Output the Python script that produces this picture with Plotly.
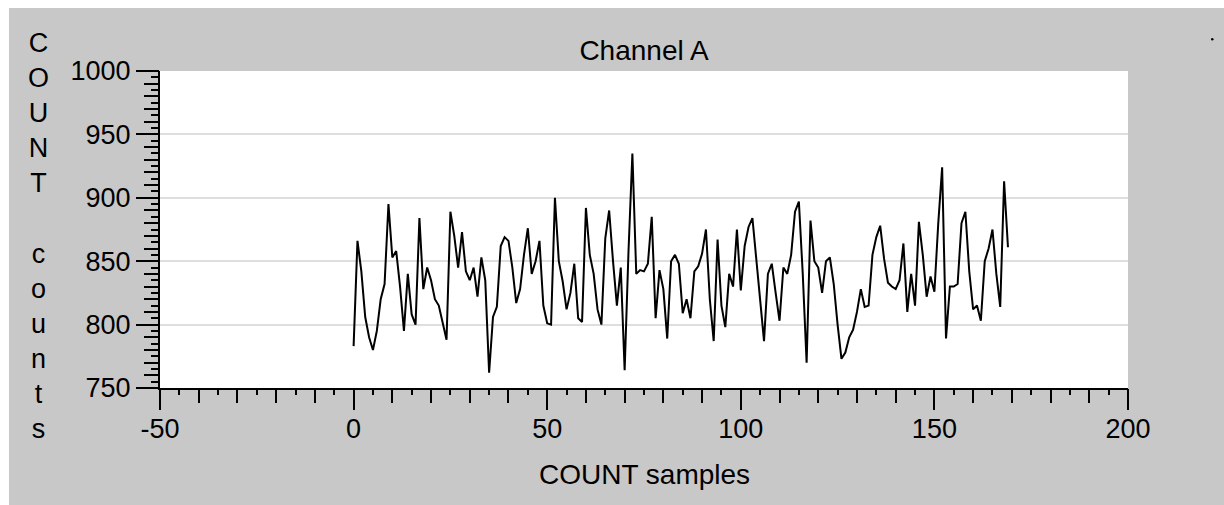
import plotly.graph_objects as go

# ---- data ----
samples = list(range(170))
counts = [
    783, 866, 842, 806, 790, 780, 795, 820, 832, 895,
    853, 858, 830, 795, 840, 808, 800, 884, 828, 845,
    835, 820, 815, 800, 788, 889, 870, 845, 873, 842,
    835, 845, 822, 853, 835, 762, 806, 814, 862, 869,
    866, 845, 817, 828, 855, 876, 840, 850, 866, 815,
    801, 800, 900, 850, 834, 812, 825, 848, 805, 802,
    892, 855, 840, 812, 800, 868, 890, 850, 815, 845,
    764, 858, 935, 840, 843, 842, 848, 885, 805, 843,
    828, 789, 850, 855, 848, 809, 820, 805, 842, 846,
    856, 875, 820, 787, 867, 815, 798, 840, 830, 875,
    827, 862, 877, 884, 850, 815, 787, 840, 848, 825,
    803, 845, 840, 855, 889, 897, 840, 770, 882, 850,
    845, 825, 850, 853, 832, 800, 773, 778, 790, 796,
    810, 828, 814, 815, 855, 869, 878, 852, 833, 830,
    828, 835, 864, 810, 840, 815, 881, 855, 822, 838,
    826, 880, 924, 789, 830, 830, 832, 880, 889, 842,
    812, 815, 803, 850, 860, 875, 840, 814, 913, 861,
]
x_range = [-50, 200]
y_range = [750, 1000]
x_tickvals = [-50, 0, 50, 100, 150, 200]
x_ticktext = ["-50", "0", "50", "100", "150", "200"]
y_tickvals = [750, 800, 850, 900, 950, 1000]
y_ticktext = ["750", "800", "850", "900", "950", "1000"]
title_text = "Channel A"
x_title = "COUNT samples"
y_title = "COUNT counts"

# ---- layout geometry (pixels) ----
W, H = 1224, 505
L, R, T, B = 160, 96, 71, 117
PW, PH = W - L - R, H - T - B
FONT = "Liberation Sans"
GRAY = "#c8c8c8"


def px(xp):
    return (xp - L) / PW


def py(yp):
    return (H - B - yp) / PH


fig = go.Figure()
fig.add_trace(go.Scatter(x=samples, y=counts, mode="lines",
                         line=dict(color="black", width=2),
                         hoverinfo="skip", showlegend=False))
# invisible helper trace so the overlay axes are always drawn
fig.add_trace(go.Scatter(x=[x_range[0]], y=[y_range[0]], xaxis="x2", yaxis="y2",
                         mode="markers", marker=dict(opacity=0),
                         hoverinfo="skip", showlegend=False))

tickfont = dict(family=FONT, size=27, color="black")

fig.update_layout(
    width=W, height=H,
    margin=dict(l=L, r=R, t=T, b=B, pad=0),
    paper_bgcolor=GRAY, plot_bgcolor="white",
    showlegend=False, hovermode=False,
    title=dict(text=title_text, x=0.5, xref="paper", xanchor="center",
               y=1 - 50 / H, yref="container", yanchor="middle",
               font=dict(family=FONT, size=28, color="black")),
    xaxis=dict(range=x_range, tickmode="array", tickvals=x_tickvals, ticktext=x_ticktext,
               ticks="outside", ticklen=20, ticklabelstandoff=-4,
               tickwidth=2, tickcolor="black", showline=True, linecolor="black",
               linewidth=2, showgrid=False, zeroline=False, tickfont=tickfont,
               fixedrange=True),
    yaxis=dict(range=y_range, tickmode="array", tickvals=y_tickvals, ticktext=y_ticktext,
               ticks="outside", ticklen=22,
               tickwidth=2, tickcolor="black", showline=True, linecolor="black",
               linewidth=2, showgrid=True, gridcolor="#dedede", gridwidth=1.5,
               zeroline=False, tickfont=tickfont, fixedrange=True),
    xaxis2=dict(range=x_range, overlaying="x", anchor="y2", side="bottom",
                dtick=10, tick0=0, ticks="outside", ticklen=14, tickwidth=2,
                tickcolor="black", showticklabels=False, showline=False,
                showgrid=False, zeroline=False, fixedrange=True,
                minor=dict(dtick=5, tick0=0, ticks="outside", ticklen=6,
                           tickwidth=2, tickcolor="black", showgrid=False)),
    yaxis2=dict(range=y_range, overlaying="y", anchor="x2", side="left",
                dtick=10, tick0=0, ticks="outside", ticklen=15, tickwidth=2,
                tickcolor="black", showticklabels=False, showline=False,
                showgrid=False, zeroline=False, fixedrange=True,
                minor=dict(dtick=5, tick0=0, ticks="outside", ticklen=8,
                           tickwidth=2, tickcolor="black", showgrid=False)),
)

# x-axis title
fig.add_annotation(text=x_title, xref="paper", yref="paper", x=0.5, y=py(474),
                   xanchor="center", yanchor="middle", showarrow=False,
                   font=dict(family=FONT, size=28, color="black"))

# y-axis title, one character per line
stacked = "<br>".join(ch if ch != " " else "\u00a0" for ch in y_title)
fig.add_annotation(text=stacked, xref="paper", yref="paper", x=px(38), y=py(236),
                   xanchor="center", yanchor="middle", showarrow=False,
                   font=dict(family=FONT, size=27, color="black"))

# white page strips at top and left, and the small dot at top right
fig.add_shape(type="rect", xref="paper", yref="paper", x0=px(0), x1=px(W),
              y0=py(8), y1=py(0), fillcolor="white", line=dict(width=0), layer="above")
fig.add_shape(type="rect", xref="paper", yref="paper", x0=px(0), x1=px(9),
              y0=py(H), y1=py(0), fillcolor="white", line=dict(width=0), layer="above")
fig.add_shape(type="circle", xref="paper", yref="paper", x0=px(1211), x1=px(1213.5),
              y0=py(40.5), y1=py(38), fillcolor="black", line=dict(width=0), layer="above")

fig.write_html("out.html", config={"displayModeBar": False})
